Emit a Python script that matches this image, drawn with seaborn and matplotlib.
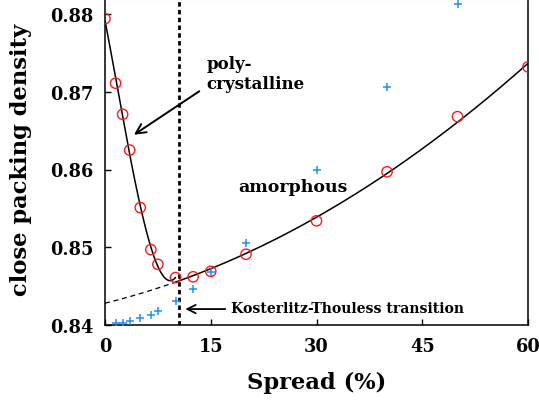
import numpy as np
import pandas as pd
import matplotlib
matplotlib.use("Agg")
import matplotlib.pyplot as plt
import seaborn as sns

# Close packing density vs. size spread
spread_poly = [0, 1.5, 2.5, 3.5, 5, 6.5, 7.5, 10, 12.5, 15, 20, 30, 40, 50, 60]
density_poly = [0.8794, 0.8711, 0.8671, 0.8625, 0.8551, 0.8497, 0.8478, 0.8461,
                0.8462, 0.8469, 0.8491, 0.8534, 0.8597, 0.8668, 0.8732]

spread_amor = [1.5, 2.5, 3.5, 5, 6.5, 7.5, 10, 12.5, 15, 20, 30, 40, 50]
density_amor = [0.8403, 0.8403, 0.8405, 0.8409, 0.8413, 0.8418, 0.8431, 0.8446,
                0.8468, 0.8506, 0.8600, 0.8706, 0.8813]

kt_transition = 10.5
x_ticks = [0, 15, 30, 45, 60]
y_ticks = [0.84, 0.85, 0.86, 0.87, 0.88]

sns.set_style("ticks")
plt.rcParams["font.family"] = ["DejaVu Serif"]
plt.rcParams["font.weight"] = "bold"
plt.rcParams["text.color"] = "black"
plt.rcParams["axes.labelcolor"] = "black"

circ = pd.DataFrame({"spread": spread_poly, "density": density_poly})
plus = pd.DataFrame({"spread": spread_amor, "density": density_amor})

# smooth fits: crystalline branch (small spread) and amorphous branch (large spread)
xs = np.asarray(spread_poly, float)
ys = np.asarray(density_poly, float)
fit_cry = np.polyfit(xs[xs <= 10], ys[xs <= 10], 3)
fit_amo = np.polyfit(xs[xs >= 10], ys[xs >= 10], 2)

grid = np.linspace(0, 60, 1201)
y_cry = np.polyval(fit_cry, grid)
y_amo = np.polyval(fit_amo, grid)
idx = np.where((grid > 4) & (y_cry <= y_amo))[0]
x_join = grid[idx[0]] if len(idx) else 10.0

fig = plt.figure(figsize=(5.39, 4.02), dpi=100)
ax = fig.add_axes([105 / 539, 1 - 326 / 402, 423 / 539, 326 / 402])

g1 = grid[grid <= x_join]
g2 = grid[grid >= x_join]
sns.lineplot(x=g1, y=np.polyval(fit_cry, g1), ax=ax, color="black", lw=1.1)
sns.lineplot(x=g2, y=np.polyval(fit_amo, g2), ax=ax, color="black", lw=1.1)
sns.lineplot(x=g1, y=np.polyval(fit_amo, g1), ax=ax, color="black", lw=0.9,
             linestyle=(0, (4, 3)))

ax.axvline(kt_transition, color="black", lw=2.0, linestyle=(0, (1.6, 1.2)))

sns.scatterplot(data=plus, x="spread", y="density", ax=ax, marker="+",
                color="#1f8fff", s=36, linewidth=1.1, zorder=4)
sns.scatterplot(data=circ, x="spread", y="density", ax=ax, marker="o",
                facecolor="none", edgecolor="#ff1a1a", s=55, linewidth=1.0,
                zorder=5)

ax.set_xlim(0, 60)
ax.set_ylim(0.84, 0.84 + 326 / 7775)
ax.set_xticks(x_ticks)
ax.set_xticklabels([str(v) for v in x_ticks])
ax.set_yticks(y_ticks)
ax.set_yticklabels([f"{v:.2f}" for v in y_ticks])
ax.tick_params(direction="in", length=4, width=1, labelsize=12.8, pad=8.5,
               colors="black")
for side in ["left", "bottom", "right"]:
    ax.spines[side].set_color("black")
    ax.spines[side].set_linewidth(1.1)
ax.spines["top"].set_color("#d8d8d8")

ax.set_xlabel("Spread (%)", fontsize=16.3, fontweight="bold")
ax.set_ylabel("close packing density", fontsize=16.3, fontweight="bold")
ax.xaxis.set_label_coords(0.5, -0.175)
ax.xaxis.label.set_va("center")
ax.yaxis.set_label_coords(-0.199, 0.51)
ax.yaxis.label.set_va("center")

ax.text(14.45, 0.8723, "poly-\ncrystalline", fontsize=12, fontweight="bold",
        va="center", ha="left", linespacing=1.25)
ax.annotate("", xy=(3.78, 0.86427), xytext=(13.7, 0.87026),
            arrowprops=dict(arrowstyle="->,head_length=0.7,head_width=0.35",
                            color="black", lw=1.4))
ax.text(18.85, 0.85775, "amorphous", fontsize=12.5, fontweight="bold",
        va="center", ha="left")
ax.text(17.85, 0.84225, "Kosterlitz-Thouless transition", fontsize=10.1,
        fontweight="bold", va="center", ha="left")
ax.annotate("", xy=(11.0, 0.84205), xytext=(17.45, 0.84205),
            arrowprops=dict(arrowstyle="->,head_length=0.6,head_width=0.3",
                            color="black", lw=1.3))

fig.savefig("out.png", dpi=100)
